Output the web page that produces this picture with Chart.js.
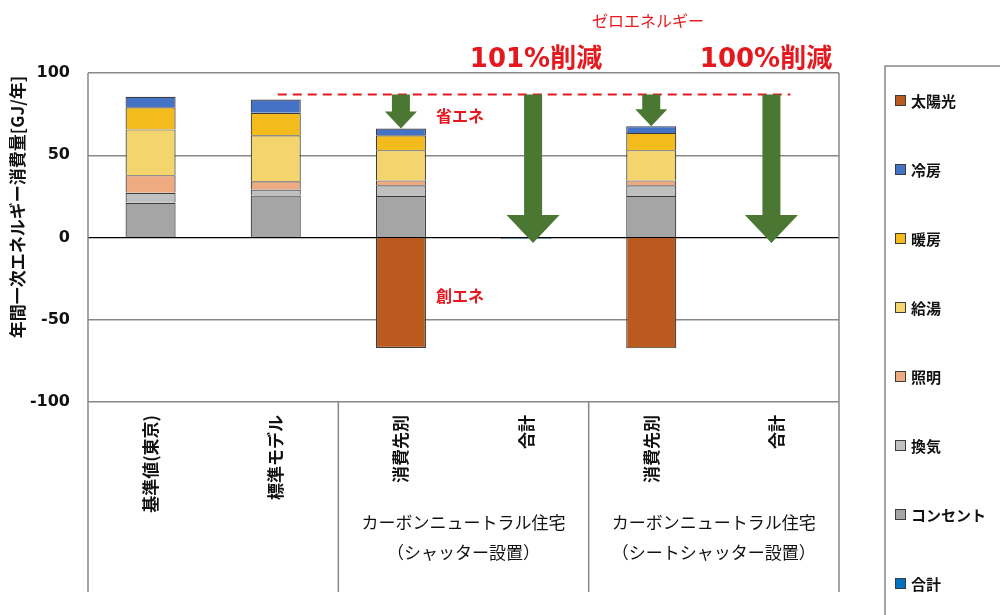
<!DOCTYPE html>
<html lang="ja">
<head>
<meta charset="UTF-8">
<title>年間一次エネルギー消費量</title>
<script src="https://cdn.jsdelivr.net/npm/chart.js"></script>
<style>
  body { margin: 0; background: #ffffff; }
  #wrap { width: 1000px; height: 615px; }
</style>
</head>
<body>
<div id="wrap"><canvas id="chart" width="1000" height="615"></canvas></div>
<script>
// categories (x axis) and the group labels under them
const categories = ['基準値(東京)', '標準モデル', '消費先別', '合計', '消費先別', '合計'];
const groups = [
  { from: 2, to: 3, lines: ['カーボンニュートラル住宅', '（シャッター設置）'] },
  { from: 4, to: 5, lines: ['カーボンニュートラル住宅', '（シートシャッター設置）'] }
];

// series values [GJ/年], stacked from bottom to top
const outlet   = [21.1, 25.5, 25.3, null, 25.3, null];  // コンセント
const vent     = [6.1, 3.7, 6.5, null, 6.5, null];      // 換気
const lighting = [10.7, 5.0, 2.9, null, 2.9, null];     // 照明
const hotWater = [27.8, 28.0, 18.4, null, 18.4, null];  // 給湯
const heating  = [13.5, 13.6, 9.1, null, 10.5, null];   // 暖房
const cooling  = [6.3, 8.1, 4.1, null, 4.1, null];      // 冷房
const solar    = [null, null, -67.1, null, -67.4, null]; // 太陽光
const total    = [null, null, null, -0.8, null, 0.3];    // 合計

const yTicks = [-100, -50, 0, 50, 100];
const baseLevel = 86.9; // red dashed reference line

const JP = '"Noto Sans CJK JP", sans-serif';
const NUM = '"DejaVu Sans", "Noto Sans CJK JP", sans-serif';
const RED = '#e3191f';
const GREEN = '#4a7731';

function ds(label, data, color, border) {
  return {
    label: label, data: data, backgroundColor: color,
    borderColor: border || '#3c3c3c', borderWidth: 1.2,
    barPercentage: 0.4, categoryPercentage: 1.0
  };
}

const datasets = [
  ds('コンセント', outlet, '#a5a5a5'),
  ds('換気', vent, '#c0c0c0'),
  ds('照明', lighting, '#eeab82'),
  ds('給湯', hotWater, '#f4d46c'),
  ds('暖房', heating, '#f3bb1c'),
  ds('冷房', cooling, '#4472c4'),
  ds('太陽光', solar, '#bb5a1e'),
  ds('合計', total, '#0070c0', '#1f3050')
];
const legendOrder = ['太陽光', '冷房', '暖房', '給湯', '照明', '換気', 'コンセント', '合計'];

// arrows: category index, pixel shift, head size
const arrows = [
  { index: 2, dx: 0, tipOf: 2, shaft: 18, headW: 32, headL: 17 },
  { index: 3, dx: 7, tip: -3.3, shaft: 18, headW: 53, headL: 28 },
  { index: 4, dx: 0, tipOf: 4, shaft: 18, headW: 32, headL: 17 },
  { index: 5, dx: -5, tip: -3.3, shaft: 18, headW: 53, headL: 28 }
];

function stackTop(i) {
  let s = 0;
  [outlet, vent, lighting, hotWater, heating, cooling].forEach(a => { s += a[i] || 0; });
  return s;
}

const extras = {
  id: 'extras',
  afterDatasetsDraw(chart) {
    const ctx = chart.ctx, x = chart.scales.x, y = chart.scales.y;
    ctx.save();
    // dashed line
    const yb = y.getPixelForValue(baseLevel);
    ctx.strokeStyle = RED;
    ctx.lineWidth = 2;
    ctx.setLineDash([9, 6]);
    ctx.beginPath();
    ctx.moveTo(x.getPixelForValue(1) + 2, yb);
    ctx.lineTo(x.getPixelForValue(5) + 14, yb);
    ctx.stroke();
    ctx.setLineDash([]);
    // arrows
    ctx.fillStyle = GREEN;
    arrows.forEach(a => {
      const cx = x.getPixelForValue(a.index) + a.dx;
      const tipV = a.tipOf !== undefined ? stackTop(a.tipOf) : a.tip;
      const tipY = y.getPixelForValue(tipV);
      const headY = tipY - a.headL;
      ctx.beginPath();
      ctx.moveTo(cx - a.shaft / 2, yb);
      ctx.lineTo(cx + a.shaft / 2, yb);
      ctx.lineTo(cx + a.shaft / 2, headY);
      ctx.lineTo(cx + a.headW / 2, headY);
      ctx.lineTo(cx, tipY);
      ctx.lineTo(cx - a.headW / 2, headY);
      ctx.lineTo(cx - a.shaft / 2, headY);
      ctx.closePath();
      ctx.fill();
    });
    // red notes
    ctx.fillStyle = RED;
    ctx.textAlign = 'center';
    ctx.textBaseline = 'middle';
    ctx.font = 'bold 16px ' + JP;
    ctx.fillText('省エネ', 460, 116);
    ctx.fillText('創エネ', 460, 296);
    ctx.font = '16px ' + JP;
    ctx.fillText('ゼロエネルギー', 648, 21);
    ctx.font = 'bold 26px ' + NUM;
    ctx.fillText('101%削減', 536, 60);
    ctx.fillText('100%削減', 766, 60);
    ctx.restore();
  },
  afterDraw(chart) {
    const ctx = chart.ctx, x = chart.scales.x, a = chart.chartArea;
    const bottom = 592;
    ctx.save();
    // frame and group separators
    ctx.strokeStyle = '#888888';
    ctx.lineWidth = 1.5;
    ctx.beginPath();
    ctx.moveTo(a.left, a.top); ctx.lineTo(a.left, bottom);
    ctx.moveTo(a.right, a.top); ctx.lineTo(a.right, bottom);
    const step = (a.right - a.left) / categories.length;
    groups.forEach(g => {
      const sx = x.getPixelForValue(g.from) - step / 2;
      ctx.moveTo(sx, a.bottom); ctx.lineTo(sx, bottom);
    });
    ctx.stroke();
    // group labels
    ctx.fillStyle = '#111111';
    ctx.textAlign = 'center';
    ctx.textBaseline = 'middle';
    ctx.font = '17px ' + JP;
    groups.forEach(g => {
      const cx = (x.getPixelForValue(g.from) + x.getPixelForValue(g.to)) / 2;
      g.lines.forEach((t, k) => ctx.fillText(t, cx, 523 + k * 30));
    });
    // y axis title
    ctx.save();
    ctx.translate(18, 207);
    ctx.rotate(-Math.PI / 2);
    ctx.font = 'bold 17px ' + JP;
    ctx.fillText('年間一次エネルギー消費量[GJ/年]', 0, 0);
    ctx.restore();
    // legend box
    ctx.strokeStyle = '#888888';
    ctx.lineWidth = 1.5;
    ctx.strokeRect(885, 66, 130, 600);
    ctx.font = 'bold 15px ' + JP;
    ctx.textAlign = 'left';
    legendOrder.forEach((name, k) => {
      const d = chart.data.datasets.find(s => s.label === name);
      const ly = 100 + k * 69;
      ctx.fillStyle = d.backgroundColor;
      ctx.fillRect(895, ly - 5, 10, 10);
      ctx.strokeStyle = '#3c3c3c';
      ctx.lineWidth = 1;
      ctx.strokeRect(895.5, ly - 4.5, 10, 10);
      ctx.fillStyle = '#111111';
      ctx.fillText(name, 911, ly + 1);
    });
    ctx.restore();
  }
};

new Chart(document.getElementById('chart'), {
  type: 'bar',
  data: { labels: categories, datasets: datasets },
  options: {
    responsive: false,
    animation: false,
    layout: { padding: { top: 73, right: 161, left: 0, bottom: 0 } },
    plugins: { legend: { display: false }, tooltip: { enabled: false } },
    scales: {
      x: {
        stacked: true,
        afterFit: s => { s.height = 213; },
        grid: { display: false },
        border: { display: false },
        ticks: {
          autoSkip: false, minRotation: 90, maxRotation: 90, padding: 5,
          color: '#111111',
          font: { family: JP, size: 17, weight: 'bold' }
        }
      },
      y: {
        stacked: true,
        min: -100, max: 100,
        afterFit: s => { s.width = 88; },
        afterBuildTicks: s => { s.ticks = yTicks.map(v => ({ value: v })); },
        border: { display: false },
        grid: {
          drawTicks: false,
          color: c => c.tick.value === 0 ? '#000000' : '#888888',
          lineWidth: c => c.tick.value === 0 ? 1.2 : 1.5
        },
        ticks: {
          padding: 18, color: '#111111',
          font: { family: NUM, size: 16, weight: 'bold' }
        }
      }
    }
  },
  plugins: [extras]
});
</script>
</body>
</html>
